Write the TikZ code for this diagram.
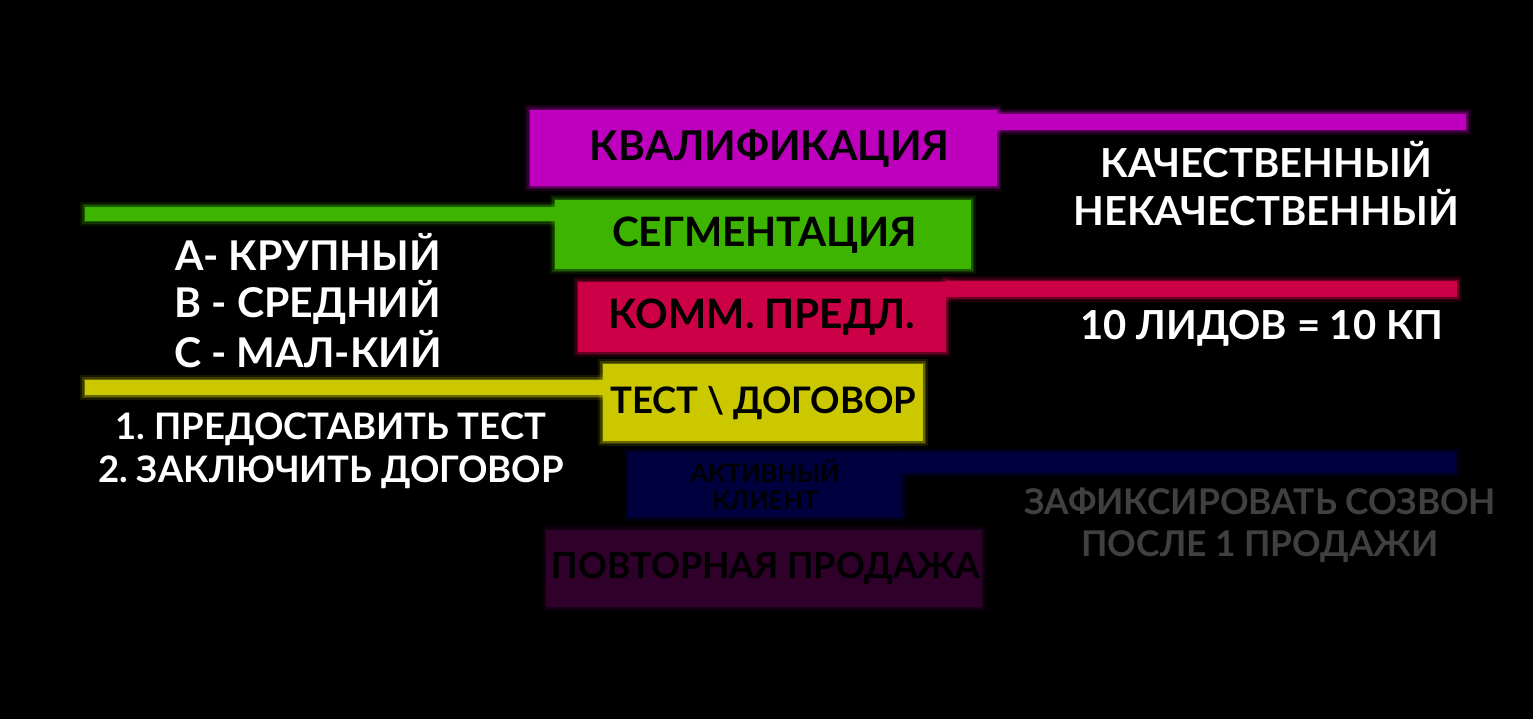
\documentclass[tikz,border=0pt]{standalone}
\usepackage{fontspec}
\setmainfont{Lato}
\definecolor{cmag}{RGB}{190,0,190}
\definecolor{cgreen}{RGB}{60,180,0}
\definecolor{ccrim}{RGB}{204,0,70}
\definecolor{cyel}{RGB}{204,200,0}
\definecolor{cnavy}{RGB}{0,0,62}
\definecolor{cpurp}{RGB}{46,0,42}
\definecolor{cgrey}{RGB}{64,64,64}
\tikzset{
  glow/.style={preaction={draw=#1,line width=10pt,opacity=0.12},
               preaction={draw=#1,line width=6pt,opacity=0.2},
               preaction={draw=#1,line width=3pt,opacity=0.3}},
  stage/.style={rectangle,inner sep=0pt,anchor=north west,fill=#1,glow=#1,text=black},
  bar/.style={fill=#1,glow=#1},
  note/.style={align=center,text=white,inner sep=0pt}
}
\newcommand{\fs}[1]{\fontsize{#1}{#1}\selectfont\bfseries\frenchspacing}
\begin{document}
\begin{tikzpicture}[x=1pt,y=-1pt]
\fill[black] (0,0) rectangle (1533,719);
\useasboundingbox (0,0) rectangle (1533,719);
% bars
\fill[bar=cmag] (997,114) rectangle (1466,130);
\fill[bar=cgreen] (85,207) rectangle (556,221);
\fill[bar=ccrim] (946,281) rectangle (1457,297);
\fill[bar=cyel] (85,380) rectangle (604,395);
\fill[bar=cnavy] (902,452) rectangle (1456,473);
% stages
\node[stage=cmag,minimum width=467pt,minimum height=76pt,font=\fs{41}] (kval) at (530,110) {\hspace*{12pt}КВАЛИФИКАЦИЯ};
\node[stage=cgreen,minimum width=416pt,minimum height=69pt,font=\fs{40.5}] (segm) at (555,200) {\hspace*{3pt}СЕГМЕНТАЦИЯ};
\node[stage=ccrim,minimum width=368pt,minimum height=70pt,font=\fs{40.5}] (komm) at (578,282) {КОММ. ПРЕДЛ.};
\node[stage=cyel,minimum width=320pt,minimum height=77pt,font=\fs{36.5}] (test) at (603,364) {ТЕСТ \textbackslash\ ДОГОВОР};
\node[stage=cnavy,minimum width=274pt,minimum height=65pt,font=\fs{25.4},align=center] (akt) at (628,452) {АКТИВНЫЙ\\[2pt]КЛИЕНТ};
\node[stage=cpurp,minimum width=436pt,minimum height=77pt,font=\fs{35.7}] (povt) at (546,530) {\hspace*{4pt}ПОВТОРНАЯ ПРОДАЖА};
% notes
\node[note,font=\fs{40}] (kach) at (1266,184) {КАЧЕСТВЕННЫЙ\\[8pt]НЕКАЧЕСТВЕННЫЙ};
\node[note,font=\fs{40}] (lid) at (1262,328) {10 ЛИДОВ = 10 КП};
\node[note,font=\fs{41}] (abc) at (308,301) {А- КРУПНЫЙ\\[6pt]В - СРЕДНИЙ\\[5pt]С - МАЛ-КИЙ};
\node[note,font=\fs{36.5}] (dog) at (331,451) {1. ПРЕДОСТАВИТЬ ТЕСТ\\[7pt]2. ЗАКЛЮЧИТЬ ДОГОВОР};
\node[note,text=cgrey,font=\fs{35.4}] (zaf) at (1260,525) {ЗАФИКСИРОВАТЬ СОЗВОН\\[7pt]ПОСЛЕ 1 ПРОДАЖИ};
\end{tikzpicture}
\end{document}
